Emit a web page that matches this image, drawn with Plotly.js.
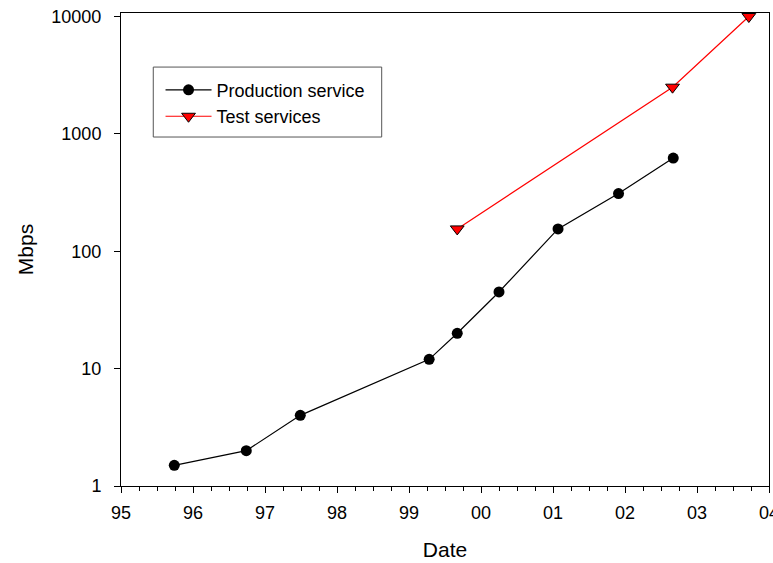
<!DOCTYPE html>
<html>
<head>
<meta charset="utf-8">
<script src="https://cdn.plot.ly/plotly-3.0.1.min.js"></script>
<style>html,body{margin:0;padding:0;background:#fff;}#chart{width:773px;height:563px;}</style>
</head>
<body>
<div id="chart"></div>
<script>
var prodDates = [1995.74, 1996.74, 1997.49, 1999.28, 1999.67, 2000.25, 2001.07, 2001.91, 2002.67];
var prodMbps = [1.5, 2, 4, 12, 20, 45, 155, 310, 622];
var testDates = [1999.67, 2002.66, 2003.72];
var testMbps = [155, 2500, 10000];
var xTickVals = [1995, 1996, 1997, 1998, 1999, 2000, 2001, 2002, 2003, 2004];
var xTickText = ['95', '96', '97', '98', '99', '00', '01', '02', '03', '04'];
var yTickVals = [1, 10, 100, 1000, 10000];
var yTickText = ['1', '10', '100', '1000', '10000'];

var font = 'Liberation Sans, Arial, sans-serif';

var traces = [
  {
    x: prodDates, y: prodMbps, name: 'Production service',
    type: 'scatter', mode: 'lines+markers',
    line: {color: '#000000', width: 1.2},
    marker: {symbol: 'circle', size: 11, color: '#000000'}
  },
  {
    x: testDates, y: testMbps, name: 'Test services',
    type: 'scatter', mode: 'lines+markers',
    line: {color: '#ff0000', width: 1.2},
    marker: {symbol: 'triangle-down', size: 12, color: '#ff0000', line: {color: '#000000', width: 1}}
  }
];

var layout = {
  width: 773, height: 563,
  margin: {l: 121, r: 4, t: 12.5, b: 76.5},
  paper_bgcolor: '#ffffff', plot_bgcolor: '#ffffff',
  font: {family: font, color: '#000000', size: 18},
  showlegend: true,
  legend: {
    x: 0.061, y: 0.876, xanchor: 'left', yanchor: 'top',
    borderwidth: 0, bgcolor: 'rgba(0,0,0,0)',
    font: {family: font, size: 18, color: '#000000'},
    itemwidth: 46, tracegroupgap: 0
  },
  shapes: [
    {type: 'rect', xref: 'paper', yref: 'paper', x0: 0.0498, x1: 0.4023, y0: 0.7378, y1: 0.8857,
     line: {color: '#555555', width: 1}, fillcolor: 'rgba(0,0,0,0)', layer: 'below'}
  ],
  xaxis: {
    range: [1995, 2004], type: 'linear',
    tickvals: xTickVals, ticktext: xTickText,
    ticks: 'outside', ticklen: 6, tickwidth: 1, tickcolor: '#000',
    showline: true, linecolor: '#000', linewidth: 1, mirror: true,
    showgrid: false, zeroline: false,
    ticklabelstandoff: 4, ticklabeloverflow: 'allow',
    tickfont: {family: font, size: 18},
    minor: {dtick: 0.25, ticks: 'outside', ticklen: 4, tickwidth: 1, tickcolor: '#000', showgrid: false},
    title: {text: 'Date', font: {family: font, size: 21}, standoff: 20}
  },
  yaxis: {
    type: 'log', range: [0, 4.03],
    tickvals: yTickVals, ticktext: yTickText,
    ticks: 'outside', ticklen: 6, tickwidth: 1, tickcolor: '#000',
    showline: true, linecolor: '#000', linewidth: 1, mirror: true,
    showgrid: false, zeroline: false,
    ticklabelstandoff: 9,
    tickfont: {family: font, size: 18},
    title: {text: 'Mbps', font: {family: font, size: 21}, standoff: 11}
  }
};

Plotly.newPlot('chart', traces, layout, {displayModeBar: false, staticPlot: true});
</script>
</body>
</html>
